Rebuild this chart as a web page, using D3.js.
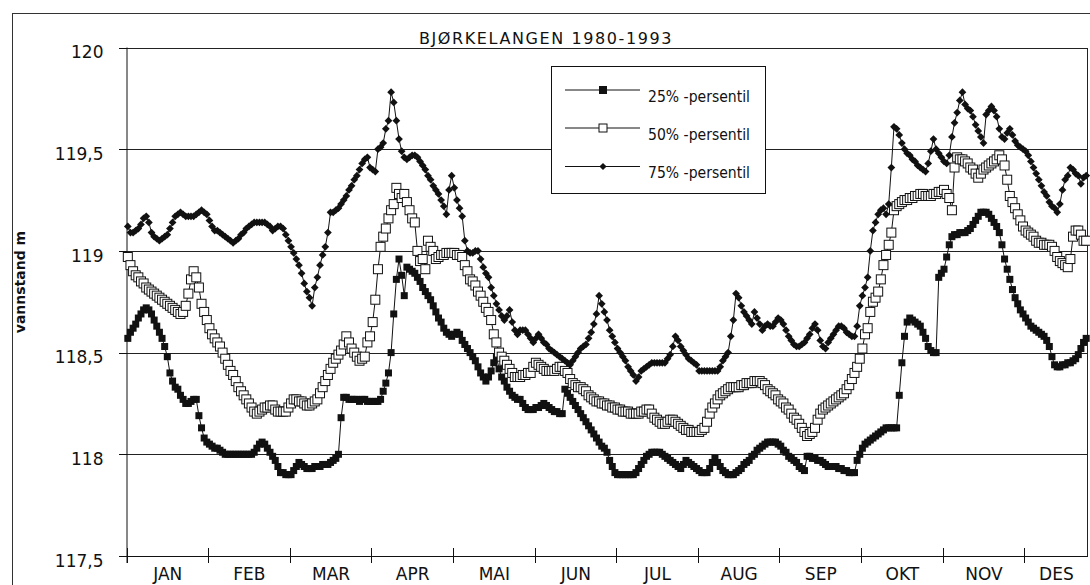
<!DOCTYPE html>
<html><head><meta charset="utf-8">
<script src="https://cdn.jsdelivr.net/npm/d3@7"></script>
<style>body{margin:0;background:#fff}svg{display:block}</style>
</head><body>
<svg id="c" width="1090" height="585"></svg>
<script>
const title = "BJØRKELANGEN  1980-1993";
const yLabel = "vannstand m";
const months = ["JAN","FEB","MAR","APR","MAI","JUN","JUL","AUG","SEP","OKT","NOV","DES"];
const monthStarts = [0,31,62,93,124,155,186,217,248,279,310,341];
const yearLength = 365;
const yTicks = [117.5,118,118.5,119,119.5,120];
const seriesNames = ["25% -persentil","50% -persentil","75% -persentil"];

const p25 = [
118.57,118.60,118.62,118.64,118.67,118.69,118.71,118.72,118.71,118.69,
118.66,118.63,118.60,118.57,118.53,118.48,118.40,118.36,118.33,118.32,
118.29,118.27,118.25,118.25,118.26,118.27,118.27,118.19,118.13,118.08,
118.06,118.05,118.04,118.03,118.03,118.02,118.01,118.00,118.00,118.00,
118.00,118.00,118.00,118.00,118.00,118.00,118.00,118.00,118.01,118.03,
118.05,118.06,118.05,118.03,118.01,117.99,117.97,117.94,117.91,117.91,
117.90,117.90,117.90,117.92,117.94,117.96,117.95,117.94,117.93,117.93,
117.93,117.94,117.94,117.94,117.95,117.95,117.95,117.96,117.97,117.98,
118.00,118.18,118.28,118.28,118.27,118.27,118.27,118.27,118.26,118.27,
118.27,118.26,118.26,118.26,118.26,118.26,118.27,118.31,118.35,118.40,
118.50,118.69,118.86,118.96,118.88,118.78,118.92,118.91,118.90,118.89,
118.87,118.85,118.82,118.80,118.78,118.76,118.73,118.70,118.67,118.65,
118.62,118.60,118.59,118.58,118.59,118.60,118.59,118.56,118.54,118.52,
118.50,118.48,118.46,118.43,118.40,118.38,118.36,118.38,118.41,118.45,
118.48,118.42,118.38,118.36,118.33,118.31,118.29,118.28,118.27,118.27,
118.25,118.23,118.22,118.22,118.22,118.23,118.23,118.24,118.25,118.24,
118.23,118.22,118.21,118.21,118.20,118.20,118.32,118.30,118.28,118.26,
118.24,118.22,118.20,118.18,118.16,118.14,118.12,118.10,118.08,118.06,
118.04,118.03,118.01,117.97,117.94,117.91,117.90,117.90,117.90,117.90,
117.90,117.90,117.90,117.91,117.93,117.95,117.97,117.99,118.00,118.01,
118.01,118.01,118.01,118.00,117.99,117.98,117.97,117.96,117.95,117.94,
117.93,117.95,117.97,117.96,117.95,117.94,117.93,117.92,117.91,117.91,
117.91,117.93,117.96,117.98,117.96,117.94,117.92,117.91,117.90,117.90,
117.90,117.91,117.92,117.93,117.95,117.96,117.97,117.99,118.00,118.02,
118.03,118.04,118.05,118.06,118.06,118.06,118.06,118.05,118.04,118.02,
118.01,117.99,117.98,117.97,117.96,117.94,117.93,117.92,117.99,117.99,
117.98,117.98,117.97,117.97,117.96,117.95,117.94,117.94,117.94,117.94,
117.93,117.93,117.92,117.92,117.91,117.91,117.91,117.97,118.00,118.03,
118.05,118.06,118.07,118.08,118.09,118.10,118.11,118.12,118.13,118.13,
118.13,118.13,118.13,118.29,118.45,118.58,118.65,118.67,118.66,118.65,
118.64,118.63,118.60,118.57,118.53,118.51,118.50,118.50,118.87,118.89,
118.91,118.97,119.03,119.07,119.08,119.08,119.09,119.09,119.09,119.10,
119.11,119.13,119.15,119.17,119.19,119.19,119.19,119.18,119.16,119.14,
119.12,119.09,119.03,118.96,118.91,118.86,118.81,118.77,118.74,118.71,
118.69,118.67,118.65,118.63,118.62,118.61,118.60,118.59,118.58,118.56,
118.53,118.48,118.44,118.43,118.43,118.44,118.44,118.45,118.45,118.46,
118.47,118.49,118.52,118.55,118.57];

const p50 = [
118.97,118.93,118.90,118.88,118.87,118.85,118.84,118.82,118.81,118.80,
118.79,118.78,118.77,118.76,118.75,118.74,118.73,118.72,118.71,118.70,
118.69,118.70,118.73,118.79,118.86,118.90,118.87,118.82,118.74,118.70,
118.66,118.62,118.59,118.57,118.55,118.53,118.50,118.47,118.44,118.41,
118.39,118.36,118.33,118.31,118.29,118.27,118.25,118.23,118.21,118.20,
118.21,118.22,118.23,118.23,118.24,118.24,118.22,118.21,118.21,118.21,
118.21,118.23,118.25,118.27,118.27,118.26,118.26,118.25,118.24,118.24,
118.25,118.26,118.27,118.30,118.33,118.36,118.39,118.42,118.45,118.47,
118.49,118.51,118.54,118.58,118.55,118.52,118.50,118.48,118.46,118.47,
118.48,118.55,118.58,118.65,118.76,118.91,119.02,119.07,119.11,119.16,
119.20,119.23,119.31,119.28,119.26,119.28,119.24,119.20,119.16,119.14,
119.00,118.95,118.96,118.91,119.05,119.02,119.00,118.96,118.97,118.98,
118.98,118.99,118.99,118.99,118.99,118.98,118.98,118.97,118.93,118.90,
118.86,118.85,118.83,118.80,118.78,118.75,118.72,118.70,118.66,118.59,
118.55,118.50,118.48,118.46,118.44,118.42,118.40,118.38,118.38,118.38,
118.39,118.39,118.40,118.40,118.43,118.45,118.44,118.43,118.42,118.41,
118.41,118.41,118.41,118.42,118.43,118.43,118.41,118.40,118.37,118.35,
118.34,118.33,118.33,118.32,118.31,118.29,118.28,118.27,118.26,118.26,
118.25,118.25,118.24,118.24,118.23,118.23,118.22,118.22,118.21,118.21,
118.21,118.20,118.20,118.20,118.20,118.21,118.21,118.22,118.22,118.20,
118.18,118.17,118.16,118.15,118.15,118.16,118.17,118.17,118.16,118.15,
118.14,118.13,118.12,118.12,118.11,118.11,118.11,118.11,118.12,118.13,
118.16,118.20,118.23,118.25,118.27,118.29,118.30,118.31,118.32,118.33,
118.33,118.33,118.33,118.34,118.34,118.35,118.35,118.35,118.36,118.36,
118.36,118.35,118.34,118.32,118.31,118.30,118.29,118.27,118.26,118.25,
118.23,118.22,118.20,118.18,118.17,118.15,118.13,118.11,118.09,118.10,
118.11,118.13,118.17,118.20,118.22,118.23,118.24,118.25,118.26,118.27,
118.28,118.29,118.30,118.32,118.34,118.37,118.40,118.43,118.47,118.52,
118.59,118.62,118.70,118.75,118.77,118.80,118.86,118.93,118.98,119.03,
119.09,119.20,119.22,119.23,119.24,119.25,119.25,119.26,119.26,119.27,
119.27,119.28,119.28,119.27,119.27,119.27,119.28,119.28,119.29,119.29,
119.30,119.28,119.26,119.20,119.41,119.46,119.45,119.45,119.44,119.43,
119.41,119.40,119.38,119.36,119.38,119.40,119.41,119.42,119.43,119.44,
119.45,119.47,119.45,119.42,119.35,119.27,119.24,119.21,119.18,119.15,
119.12,119.10,119.09,119.08,119.07,119.05,119.04,119.04,119.03,119.03,
119.03,119.02,119.00,118.97,118.95,118.94,118.93,118.92,118.96,119.07,
119.10,119.10,119.08,119.05,119.05];

const p75 = [
119.12,119.09,119.09,119.10,119.11,119.13,119.16,119.17,119.14,119.09,
119.07,119.06,119.05,119.06,119.07,119.08,119.11,119.14,119.17,119.18,
119.19,119.18,119.17,119.17,119.17,119.17,119.18,119.19,119.20,119.19,
119.18,119.15,119.12,119.10,119.10,119.09,119.08,119.07,119.06,119.05,
119.04,119.05,119.06,119.08,119.09,119.11,119.12,119.13,119.14,119.14,
119.14,119.14,119.14,119.13,119.12,119.10,119.11,119.12,119.12,119.11,
119.08,119.05,119.02,118.99,118.96,118.93,118.89,118.84,118.80,118.77,
118.73,118.82,118.87,118.93,118.98,119.02,119.09,119.19,119.19,119.20,
119.21,119.23,119.25,119.27,119.30,119.32,119.35,119.37,119.40,119.43,
119.45,119.46,119.41,119.40,119.39,119.50,119.51,119.53,119.60,119.64,
119.78,119.73,119.64,119.55,119.49,119.46,119.45,119.46,119.47,119.47,
119.46,119.44,119.42,119.40,119.37,119.35,119.32,119.30,119.28,119.25,
119.22,119.18,119.30,119.37,119.31,119.25,119.21,119.17,119.05,119.00,
118.99,118.99,119.00,119.00,118.96,118.92,118.89,118.87,118.82,118.78,
118.74,118.71,118.68,118.66,118.68,118.71,118.65,118.61,118.59,118.61,
118.61,118.61,118.59,118.57,118.55,118.57,118.59,118.57,118.55,118.54,
118.52,118.51,118.50,118.49,118.48,118.47,118.46,118.45,118.44,118.46,
118.48,118.50,118.52,118.53,118.54,118.57,118.60,118.64,118.69,118.78,
118.74,118.70,118.66,118.61,118.58,118.55,118.52,118.50,118.48,118.46,
118.43,118.41,118.39,118.36,118.38,118.41,118.42,118.43,118.44,118.45,
118.45,118.45,118.45,118.45,118.45,118.47,118.49,118.53,118.58,118.56,
118.53,118.51,118.49,118.47,118.46,118.45,118.44,118.41,118.41,118.41,
118.41,118.41,118.41,118.41,118.41,118.43,118.46,118.48,118.50,118.58,
118.66,118.79,118.77,118.73,118.70,118.68,118.66,118.64,118.70,118.67,
118.64,118.61,118.63,118.64,118.63,118.63,118.65,118.67,118.66,118.64,
118.61,118.58,118.56,118.54,118.53,118.53,118.54,118.55,118.57,118.59,
118.62,118.64,118.61,118.56,118.53,118.52,118.55,118.57,118.59,118.61,
118.63,118.63,118.62,118.60,118.59,118.58,118.58,118.63,118.73,118.78,
118.82,118.87,119.00,119.10,119.14,119.18,119.20,119.21,119.18,119.23,
119.41,119.61,119.60,119.57,119.53,119.50,119.48,119.47,119.45,119.44,
119.42,119.41,119.40,119.39,119.43,119.49,119.55,119.50,119.48,119.46,
119.44,119.43,119.47,119.56,119.63,119.68,119.74,119.78,119.72,119.70,
119.69,119.66,119.62,119.59,119.56,119.53,119.67,119.69,119.71,119.69,
119.66,119.60,119.56,119.55,119.58,119.60,119.57,119.54,119.52,119.51,
119.50,119.49,119.47,119.44,119.41,119.38,119.35,119.32,119.29,119.27,
119.24,119.22,119.21,119.19,119.23,119.30,119.35,119.37,119.41,119.40,
119.38,119.37,119.33,119.36,119.37];

const FONT = "'DejaVu Sans', sans-serif";
const svg = d3.select("#c");
const L = 126.5, R = 1087.5, T = 47.5, B = 556;
const x = d3.scaleLinear().domain([0, yearLength]).range([L, R]);
const y = d3.scaleLinear().domain([117.5, 120]).range([B, T]);

// outer chart frame (cropped at right and bottom)
svg.append("rect").attr("x", 12.5).attr("y", 13.5).attr("width", 1200).attr("height", 700)
  .attr("fill", "none").attr("stroke", "#333").attr("stroke-width", 1);

// title
svg.append("text").attr("x", 546).attr("y", 44).attr("text-anchor", "middle")
  .style("font-family", FONT).style("font-size", "16px").attr("letter-spacing", "1.6")
  .attr("fill", "#111").text(title);

// gridlines
const grid = svg.append("g").attr("transform", `translate(${L},0)`)
  .call(d3.axisLeft(y).tickValues(yTicks).tickSize(-(R - L)).tickFormat(""));
grid.select(".domain").remove();
grid.selectAll("line").attr("stroke", "#222").attr("shape-rendering", "crispEdges");

// right frame
svg.append("line").attr("x1", R).attr("x2", R).attr("y1", T).attr("y2", B)
  .attr("stroke", "#222").attr("shape-rendering", "crispEdges");

// y axis
const fmt = d => Number.isInteger(d) ? String(d) : String(d).replace(".", ",");
const ya = svg.append("g").attr("transform", `translate(${L},0)`)
  .call(d3.axisLeft(y).tickValues(yTicks).tickSize(8).tickPadding(15).tickFormat(fmt));
ya.select(".domain").attr("stroke", "#111").attr("d", `M0.5,${T}V${B + 7}`);
ya.selectAll("line").attr("stroke", "#111").attr("shape-rendering", "crispEdges");
ya.selectAll("text").attr("dy", "0.6em").style("font-family", FONT).style("font-size", "17px").attr("fill", "#111");

// x axis ticks (cross the axis line)
const xa = svg.append("g").attr("transform", `translate(0,${B})`)
  .call(d3.axisBottom(x).tickValues(monthStarts).tickSizeOuter(0).tickFormat(""));
xa.select(".domain").attr("stroke", "#111").attr("d", `M${L},0.5H${R}`);
xa.selectAll(".tick line").attr("y1", -8).attr("y2", 7).attr("stroke", "#111").attr("shape-rendering", "crispEdges");

// month labels centered between ticks
const bounds = monthStarts.concat([yearLength]);
const mids = months.map((m, i) => (bounds[i] + bounds[i + 1]) / 2);
const xl = svg.append("g").attr("transform", `translate(0,${B})`)
  .call(d3.axisBottom(x).tickValues(mids).tickSize(0).tickPadding(0).tickFormat((d, i) => months[i]));
xl.select(".domain").remove();
xl.selectAll("text").attr("y", 24).attr("dy", 0).style("font-family", FONT).style("font-size", "17px").attr("fill", "#111");

// y axis title
svg.append("text").attr("transform", "translate(25,282) rotate(-90)").attr("text-anchor", "middle")
  .style("font-family", FONT).style("font-size", "14px").style("font-weight", "bold")
  .attr("fill", "#111").text(yLabel);

// series
const line = d3.line().x((d, i) => x(i + 0.5)).y(d => y(d));
const series = [p25, p50, p75];
const plot = svg.append("g");
series.forEach(s => {
  plot.append("path").datum(s).attr("d", line).attr("fill", "none").attr("stroke", "#111").attr("stroke-width", 1);
});
const drawMarkers = (g, data, kind) => {
  if (kind === 0) {
    g.selectAll("rect").data(data).join("rect")
      .attr("x", (d, i) => x(i + 0.5) - 3.5).attr("y", d => y(d) - 3.5)
      .attr("width", 7).attr("height", 7).attr("fill", "#111");
  } else if (kind === 1) {
    g.selectAll("rect").data(data).join("rect")
      .attr("x", (d, i) => x(i + 0.5) - 4.5).attr("y", d => y(d) - 4.5)
      .attr("width", 9).attr("height", 9).attr("fill", "#fff").attr("stroke", "#111").attr("stroke-width", 1);
  } else {
    const sym = d3.symbol().type(d3.symbolSquare).size(30);
    g.selectAll("path").data(data).join("path")
      .attr("d", sym).attr("transform", (d, i) => `translate(${x(i + 0.5)},${y(d)}) rotate(45)`)
      .attr("fill", "#111");
  }
};
series.forEach((s, k) => drawMarkers(plot.append("g"), s, k));

// legend
const lg = svg.append("g");
lg.append("rect").attr("x", 551.5).attr("y", 66.5).attr("width", 214).attr("height", 127)
  .attr("fill", "#fff").attr("stroke", "#111");
const rows = [90, 128, 166.5];
seriesNames.forEach((name, k) => {
  const ry = rows[k];
  lg.append("line").attr("x1", 565).attr("x2", 640).attr("y1", ry).attr("y2", ry).attr("stroke", "#111");
  const mg = lg.append("g");
  if (k === 0) mg.append("rect").attr("x", 599).attr("y", ry - 4).attr("width", 8).attr("height", 8).attr("fill", "#111");
  else if (k === 1) mg.append("rect").attr("x", 599).attr("y", ry - 4).attr("width", 8).attr("height", 8).attr("fill", "#fff").attr("stroke", "#111");
  else mg.append("path").attr("d", d3.symbol().type(d3.symbolSquare).size(26)).attr("transform", `translate(603,${ry}) rotate(45)`).attr("fill", "#111");
  lg.append("text").attr("x", 648).attr("y", ry + 11.5).style("font-family", FONT).style("font-size", "15px")
    .attr("textLength", 102).attr("lengthAdjust", "spacingAndGlyphs").attr("fill", "#111").text(name);
});
</script>
</body></html>
